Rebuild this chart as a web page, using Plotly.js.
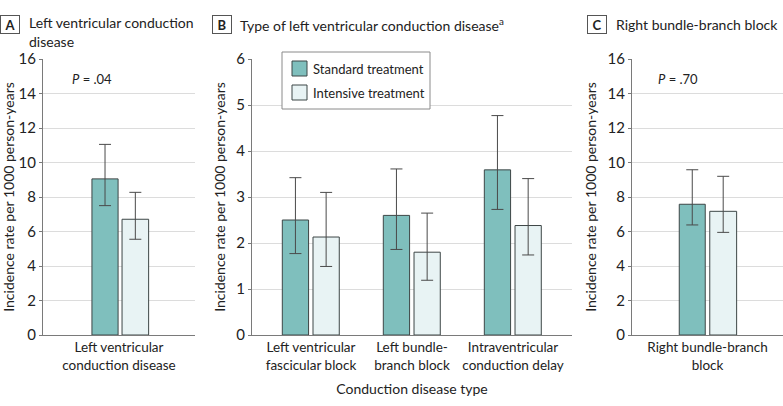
<!DOCTYPE html>
<html><head><meta charset="utf-8">
<script src="https://cdn.plot.ly/plotly-3.0.1.min.js"></script>
<style>html,body{margin:0;padding:0;background:#fff}#c{width:783px;height:406px}</style>
</head><body><div id="c"></div>
<script>
// Panel A
const catsA = ["Left ventricular<br>conduction disease"];
const stdA = [9.05], stdA_lo = [7.5], stdA_hi = [11.05];
const intA = [6.71], intA_lo = [5.55], intA_hi = [8.27];
// Panel B
const catsB = ["Left ventricular<br>fascicular block", "Left bundle-<br>branch block", "Intraventricular<br>conduction delay"];
const stdB = [2.50, 2.60, 3.59], stdB_lo = [1.77, 1.86, 2.73], stdB_hi = [3.42, 3.61, 4.77];
const intB = [2.13, 1.80, 2.38], intB_lo = [1.49, 1.19, 1.74], intB_hi = [3.10, 2.65, 3.40];
// Panel C
const catsC = ["Right bundle-branch<br>block"];
const stdC = [7.58], stdC_lo = [6.38], stdC_hi = [9.58];
const intC = [7.17], intC_lo = [5.95], intC_hi = [9.20];
const seriesNames = ["Standard treatment", "Intensive treatment"];
const pA = ".04", pC = ".70";

const W = 783, H = 406;
const FONT = "Lato, sans-serif";
const TXT = "#222";
const STD_COL = "#7fbfbd", INT_COL = "#e8f3f4", EDGE = "#3d4646";
const ERR = "#4a4a4a";

function err(v, lo, hi) {
  return {type: "data", symmetric: false,
    array: v.map((d, i) => hi[i] - d), arrayminus: v.map((d, i) => d - lo[i]),
    color: ERR, thickness: 1, width: 6};
}
function bar(cats, v, lo, hi, name, col, xa, ya, off, w) {
  return {type: "bar", x: cats, y: v, name: name, xaxis: xa, yaxis: ya,
    offset: off, width: w, showlegend: false,
    marker: {color: col, line: {color: EDGE, width: 1}},
    error_y: err(v, lo, hi), hoverinfo: "skip"};
}
const data = [
  bar(catsA, stdA, stdA_lo, stdA_hi, seriesNames[0], STD_COL, "x", "y", -0.178, 0.172),
  bar(catsA, intA, intA_lo, intA_hi, seriesNames[1], INT_COL, "x", "y", 0.02, 0.175),
  bar(catsB, stdB, stdB_lo, stdB_hi, seriesNames[0], STD_COL, "x2", "y2", -0.284, 0.26),
  bar(catsB, intB, intB_lo, intB_hi, seriesNames[1], INT_COL, "x2", "y2", 0.02, 0.26),
  bar(catsC, stdC, stdC_lo, stdC_hi, seriesNames[0], STD_COL, "x3", "y3", -0.187, 0.172),
  bar(catsC, intC, intC_lo, intC_hi, seriesNames[1], INT_COL, "x3", "y3", 0.015, 0.178)
];
const yd = [(H - 335) / H, (H - 59) / H];
function xax(d0, d1, range, anchor) {
  return {domain: [d0 / W, d1 / W], range: range, anchor: anchor, type: "category",
    showgrid: false, showline: true, linecolor: "#7a7a7a", linewidth: 1,
    ticks: "", tickfont: {family: FONT, size: 13.5, color: TXT}, fixedrange: true, zeroline: false};
}
function yax(range, dtick, anchor) {
  return {domain: yd, range: range, dtick: dtick, anchor: anchor,
    showgrid: true, gridcolor: "#dcdcdc", gridwidth: 1,
    showline: true, linecolor: "#7a7a7a", linewidth: 1,
    ticks: "outside", ticklen: 3, tickcolor: "#7a7a7a",
    tickfont: {family: FONT, size: 15, color: TXT}, zeroline: false,
    title: {text: "Incidence rate per 1000 person-years", font: {family: FONT, size: 14, color: TXT}, standoff: 7}};
}
function box(letter, cx) {
  return {text: "<b>" + letter + "</b>", xref: "paper", yref: "paper", x: cx / W, y: 1 - 24 / H,
    xanchor: "center", yanchor: "middle", showarrow: false,
    font: {family: FONT, size: 13, color: TXT}, bordercolor: "#555", borderwidth: 1, borderpad: 1,
    width: 16, height: 15};
}
function txt(text, x, y, size) {
  return {text: text, xref: "paper", yref: "paper", x: x / W, y: 1 - y / H,
    xanchor: "left", yanchor: "middle", align: "left", showarrow: false,
    font: {family: FONT, size: size, color: TXT}};
}
function rect(x0, y0, x1, y1, fill, line) {
  return {type: "rect", xref: "paper", yref: "paper", x0: x0 / W, x1: x1 / W, y0: 1 - y1 / H, y1: 1 - y0 / H,
    fillcolor: fill, line: {color: line, width: 1}, layer: "above"};
}
const layout = {
  width: W, height: H, margin: {l: 0, r: 0, t: 0, b: 0},
  paper_bgcolor: "#fff", plot_bgcolor: "#fff",
  barmode: "overlay", font: {family: FONT, color: TXT}, showlegend: false,
  xaxis: xax(43, 195, [-0.5, 0.5], "y"),
  yaxis: yax([0, 16], 2, "x"),
  xaxis2: Object.assign(xax(252, 572, [-0.584, 2.584], "y2"),
    {title: {text: "Conduction disease type", font: {family: FONT, size: 14, color: TXT}, standoff: 12}}),
  yaxis2: yax([0, 6], 1, "x2"),
  xaxis3: xax(632, 783, [-0.5, 0.5], "y3"),
  yaxis3: yax([0, 16], 2, "x3"),
  shapes: [
    rect(282, 52, 430, 109, "#fff", "#8a8a8a"),
    rect(292, 61, 307, 76, STD_COL, EDGE),
    rect(292, 85, 307, 100, INT_COL, EDGE)
  ],
  annotations: [
    box("A", 10),
    txt("Left ventricular conduction", 27, 23, 14),
    txt("disease", 27, 41, 14),
    box("B", 222.5),
    txt("Type of left ventricular conduction disease<sup>a</sup>", 238, 24, 14),
    box("C", 597),
    txt("Right bundle-branch block", 614, 24, 14),
    txt("<i>P</i> = " + pA, 70, 79, 13),
    txt("<i>P</i> = " + pC, 656, 79, 13),
    txt(seriesNames[0], 311, 68.5, 13),
    txt(seriesNames[1], 311, 93, 13)
  ]
};
Plotly.newPlot("c", data, layout, {displayModeBar: false, staticPlot: true});
</script></body></html>
